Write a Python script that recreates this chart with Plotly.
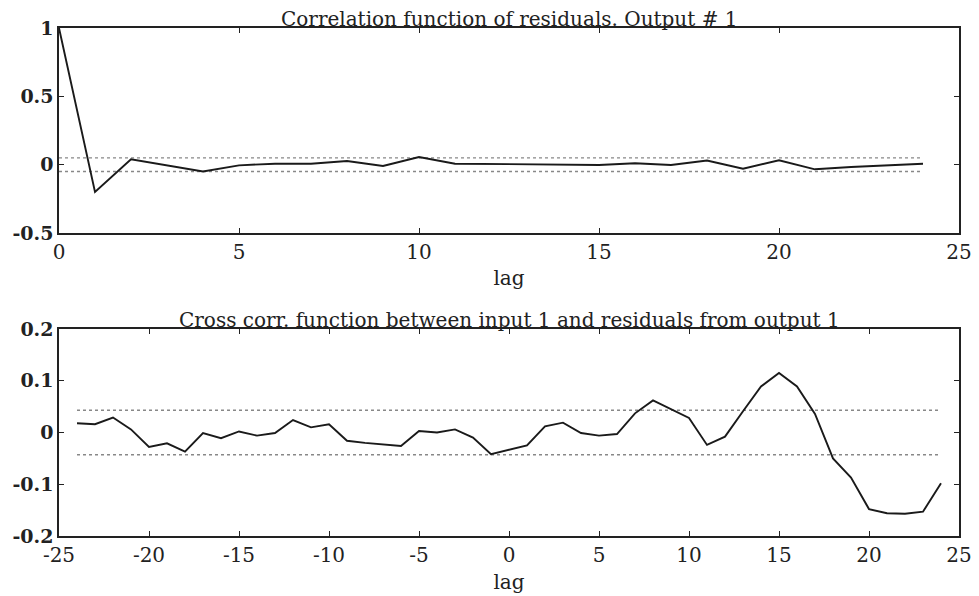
import plotly.graph_objects as go

# autocorrelation of residuals, output 1
acf_lags = list(range(0, 25))
acf_vals = [1.0, -0.20, 0.04, -0.005, -0.05, -0.005, 0.007, 0.007, 0.027, -0.01,
            0.056, 0.007, 0.004, 0.0, 0.0, -0.002, 0.01, -0.003, 0.03, -0.03,
            0.032, -0.034, -0.017, -0.005, 0.007]
acf_conf = 0.05

# cross correlation input 1 / residuals output 1
ccf_lags = list(range(-24, 25))
ccf_vals = [0.018, 0.016, 0.029, 0.006, -0.028, -0.021, -0.037, -0.001, -0.011, 0.002,
            -0.006, -0.001, 0.024, 0.010, 0.016, -0.016, -0.020, -0.023, -0.026, 0.003,
            0.0, 0.006, -0.010, -0.042, -0.033, -0.025, 0.012, 0.019, -0.001, -0.006,
            -0.003, 0.037, 0.062, 0.045, 0.028, -0.024, -0.008, 0.041, 0.089, 0.115,
            0.089, 0.036, -0.050, -0.087, -0.148, -0.156, -0.157, -0.153, -0.098]
ccf_conf = 0.043

FONT = "DejaVu Serif"
line_style = dict(color="#1a1a1a", width=1.9)
conf_style = dict(color="#888888", width=1.3, dash="dot")

fig = go.Figure()

# top panel
fig.add_trace(go.Scatter(x=acf_lags, y=[acf_conf] * len(acf_lags), mode="lines",
                         line=conf_style, xaxis="x", yaxis="y"))
fig.add_trace(go.Scatter(x=acf_lags, y=[-acf_conf] * len(acf_lags), mode="lines",
                         line=conf_style, xaxis="x", yaxis="y"))
fig.add_trace(go.Scatter(x=acf_lags, y=acf_vals, mode="lines",
                         line=line_style, xaxis="x", yaxis="y"))

# bottom panel
fig.add_trace(go.Scatter(x=ccf_lags, y=[ccf_conf] * len(ccf_lags), mode="lines",
                         line=conf_style, xaxis="x2", yaxis="y2"))
fig.add_trace(go.Scatter(x=ccf_lags, y=[-ccf_conf] * len(ccf_lags), mode="lines",
                         line=conf_style, xaxis="x2", yaxis="y2"))
fig.add_trace(go.Scatter(x=ccf_lags, y=ccf_vals, mode="lines",
                         line=line_style, xaxis="x2", yaxis="y2"))

axis_common = dict(
    showline=True, linecolor="#222", linewidth=1.5, mirror="ticks",
    ticks="inside", ticklen=5, tickcolor="#222", showgrid=False, zeroline=False,
    automargin=False,
)
xfont = dict(family=FONT, size=20, color="#222")
yfont = dict(family=FONT, size=19, color="#222", weight="bold")
title_font = dict(family=FONT, size=20, color="#222")

# page body adds ~8px offset, so the figure is a bit smaller than the window
fig.update_layout(
    width=971, height=588,
    margin=dict(l=51, r=20, t=20, b=60),
    paper_bgcolor="white", plot_bgcolor="white",
    showlegend=False,
    xaxis=dict(axis_common, domain=[0, 1], range=[0, 25], tickvals=[0, 5, 10, 15, 20, 25],
               tickfont=xfont, anchor="y",
               title=dict(text="lag", font=title_font, standoff=8)),
    yaxis=dict(axis_common, domain=[0.5965, 1], range=[-0.5, 1],
               tickvals=[-0.5, 0, 0.5, 1], ticktext=["-0.5", "0", "0.5", "1"],
               tickfont=yfont, anchor="x"),
    xaxis2=dict(axis_common, domain=[0, 1], range=[-25, 25],
                tickvals=[-25, -20, -15, -10, -5, 0, 5, 10, 15, 20, 25],
                ticktext=["-25", "-20", "-15", "-10", "-5", "0", "5", "10", "15", "20", "25"],
                tickfont=xfont, anchor="y2",
                title=dict(text="lag", font=title_font, standoff=9)),
    yaxis2=dict(axis_common, domain=[0, 0.4075], range=[-0.2, 0.2],
                tickvals=[-0.2, -0.1, 0, 0.1, 0.2],
                ticktext=["-0.2", "-0.1", "0", "0.1", "0.2"],
                tickfont=yfont, anchor="x2"),
    annotations=[
        dict(text="Correlation function of residuals. Output # 1", x=0.5, y=1,
             xref="paper", yref="paper", xanchor="center", yanchor="bottom",
             showarrow=False, font=title_font, yshift=-4, borderpad=0),
        dict(text="Cross corr. function between input 1 and residuals from output 1",
             x=0.5, y=0.4075, xref="paper", yref="paper", xanchor="center",
             yanchor="bottom", showarrow=False, font=title_font, yshift=-4, borderpad=0),
    ],
)

fig.write_html("out.html")
